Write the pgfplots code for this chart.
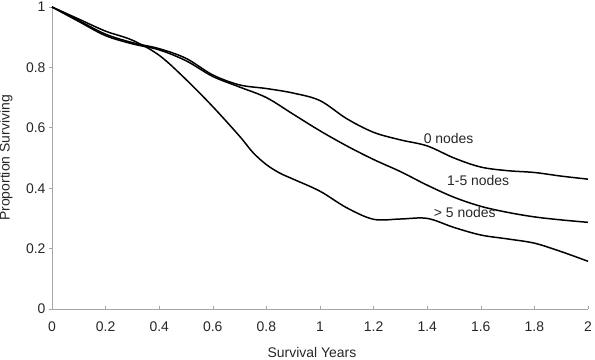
\documentclass[border=0pt]{standalone}
\usepackage{pgfplots}
\pgfplotsset{compat=1.18}
\usepackage{fontspec}
\setmainfont{Liberation Sans}
\begin{document}
\begin{tikzpicture}
\useasboundingbox (0,0) rectangle (595bp,360bp);
\begin{axis}[
  at={(52bp,51bp)}, anchor=south west,
  scale only axis, width=536bp, height=302bp,
  xmin=0, xmax=2, ymin=0, ymax=1,
  axis x line=bottom, axis y line=left,
  axis line style={gray!70, -, line width=0.8pt},
  xtick={0,0.2,...,2}, ytick={0,0.2,...,1},
  tick style={gray!70, line width=0.6pt},
  major tick length=3bp,
  xtick align=inside, ytick align=outside,
  tick label style={font=\fontsize{14}{16}\selectfont, text=black!85},
  xticklabel style={yshift=-9bp},
  /pgf/number format/assume math mode=true,
  xlabel={Survival Years}, ylabel={Proportion Surviving},
  label style={font=\fontsize{14}{16}\selectfont, text=black!85},
  xlabel style={at={(axis description cs:0.485,0)}, anchor=north, yshift=-35bp},
  ylabel style={at={(axis description cs:0,0.5)}, anchor=south, yshift=36bp},
  clip=false,
]
\addplot[black, line width=1.5pt, smooth, tension=0.55] coordinates {
(0,1)(0.1,0.955)(0.2,0.91)(0.3,0.882)(0.4,0.862)(0.5,0.83)(0.6,0.775)(0.7,0.742)(0.8,0.73)(0.9,0.715)(1.0,0.69)(1.1,0.63)(1.2,0.585)(1.3,0.56)(1.4,0.54)(1.5,0.5)(1.6,0.47)(1.7,0.458)(1.8,0.452)(1.9,0.44)(2.0,0.43)};
\addplot[black, line width=1.5pt, smooth, tension=0.55] coordinates {
(0,1)(0.1,0.952)(0.2,0.905)(0.3,0.878)(0.4,0.858)(0.5,0.822)(0.6,0.77)(0.7,0.735)(0.8,0.70)(0.9,0.645)(1.0,0.59)(1.1,0.54)(1.2,0.495)(1.3,0.455)(1.4,0.41)(1.5,0.37)(1.6,0.34)(1.7,0.32)(1.8,0.305)(1.9,0.295)(2.0,0.287)};
\addplot[black, line width=1.5pt, smooth, tension=0.55] coordinates {
(0,1)(0.1,0.96)(0.2,0.92)(0.3,0.89)(0.4,0.84)(0.5,0.76)(0.6,0.67)(0.7,0.572)(0.75,0.518)(0.8,0.478)(0.85,0.45)(0.9,0.43)(1.0,0.39)(1.1,0.335)(1.2,0.297)(1.3,0.298)(1.4,0.30)(1.5,0.27)(1.6,0.245)(1.7,0.232)(1.8,0.218)(1.9,0.19)(2.0,0.158)};
\node[font=\fontsize{14}{16}\selectfont, text=black!85] at (axis cs:1.48,0.563) {0 nodes};
\node[font=\fontsize{14}{16}\selectfont, text=black!85] at (axis cs:1.59,0.424) {1-5 nodes};
\node[font=\fontsize{14}{16}\selectfont, text=black!85] at (axis cs:1.54,0.318) {> 5 nodes};
\end{axis}
\end{tikzpicture}
\end{document}
